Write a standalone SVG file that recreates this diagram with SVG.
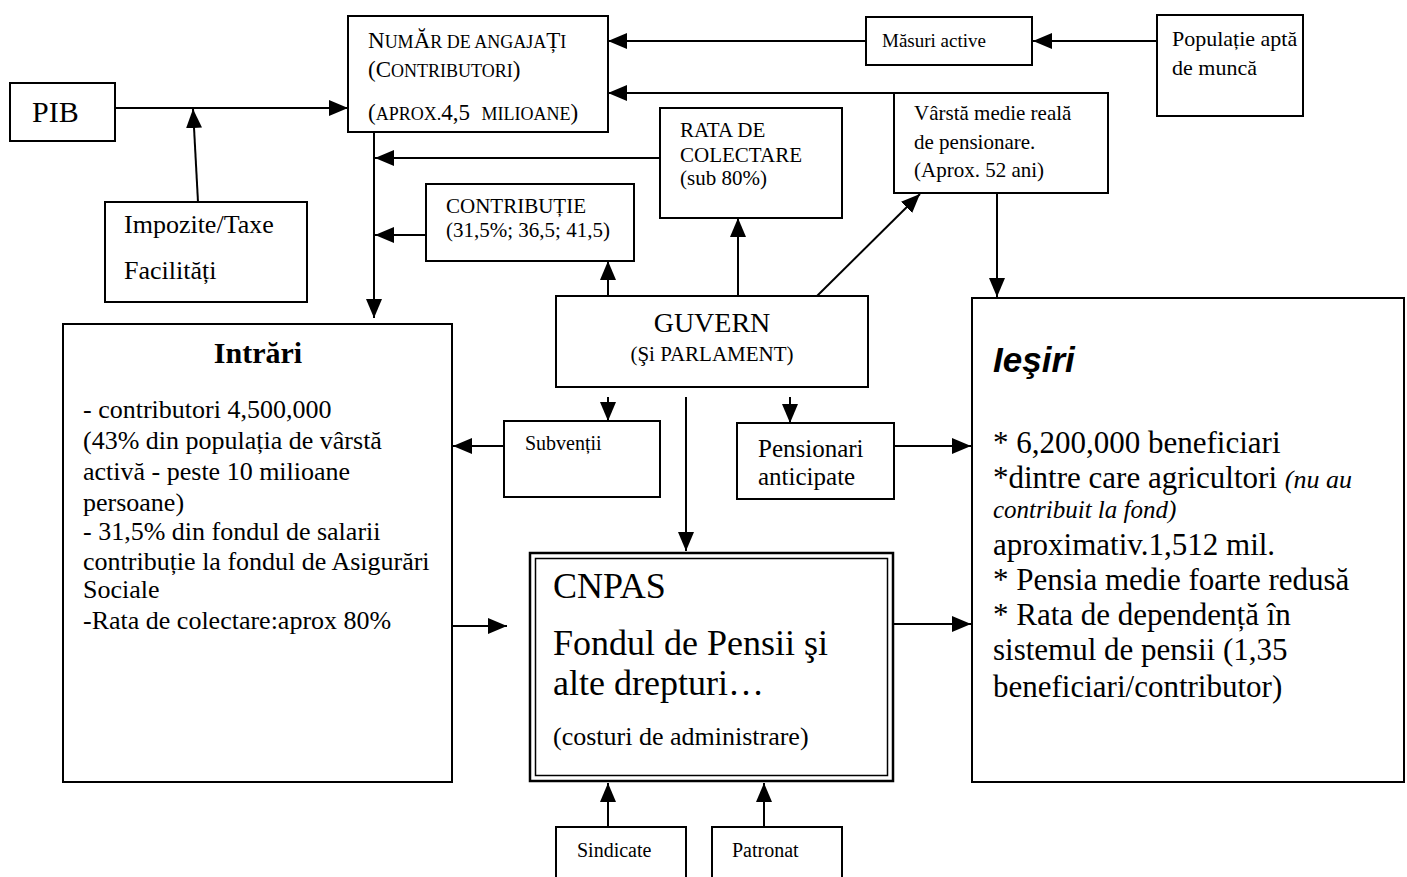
<svg xmlns="http://www.w3.org/2000/svg" width="1407" height="877" viewBox="0 0 1407 877">
<style>
.box{fill:#fff;stroke:#000;stroke-width:2}
.ln{fill:none;stroke:#000;stroke-width:2}
.ar{fill:none;stroke:#000;stroke-width:2;marker-end:url(#ah)}
text{font-family:"Liberation Serif","Times New Roman",serif;fill:#000}
.sans{font-family:"Liberation Sans",Arial,sans-serif}
</style>
<defs>
<marker id="ah" markerUnits="userSpaceOnUse" markerWidth="20" markerHeight="18" refX="19" refY="8" orient="auto" viewBox="0 0 20 16">
<path d="M0,0 L19,8 L0,16 z" fill="#000"/>
</marker>
</defs>
<rect width="1407" height="877" fill="#fff"/>

<g id="connectors">
<path class="ar" d="M115,108 H348"/>
<path class="ar" d="M198,202 L193,109"/>
<path class="ar" d="M866,41 H608"/>
<path class="ar" d="M1157,41 H1033"/>
<path class="ar" d="M894,93 H608"/>
<path class="ar" d="M374,132 V318"/>
<path class="ar" d="M660,158 H375"/>
<path class="ar" d="M426,235 H375"/>
<path class="ar" d="M608,296 V261"/>
<path class="ar" d="M738,296 V218"/>
<path class="ar" d="M817,296 L920,194"/>
<path class="ar" d="M997,193 V297"/>
<path class="ar" d="M608,397 V421"/>
<path class="ar" d="M790,397 V423"/>
<path class="ar" d="M686,397 V551"/>
<path class="ar" d="M504,446 H453"/>
<path class="ar" d="M894,446 H971"/>
<path class="ar" d="M452,626 H507"/>
<path class="ar" d="M894,624 H971"/>
<path class="ar" d="M608,827 V783"/>
<path class="ar" d="M764,827 V783"/>
</g>

<g id="pib">
<rect class="box" x="10" y="83" width="105" height="58"/>
<text x="32" y="122" font-size="30">PIB</text>
</g>

<g id="impozite">
<rect class="box" x="105" y="202" width="202" height="100"/>
<text x="124" y="233" font-size="26">Impozite/Taxe</text>
<text x="124" y="279" font-size="26">Facilități</text>
</g>

<g id="numar">
<rect class="box" x="348" y="16" width="260" height="116"/>
<text x="368" y="48" font-size="23">N<tspan font-size="18">UM</tspan>Ă<tspan font-size="18">R DE ANGAJA</tspan>Ț<tspan font-size="18">I</tspan></text>
<text x="368" y="77" font-size="23">(C<tspan font-size="18">ONTRIBUTORI</tspan>)</text>
<text x="368" y="120" font-size="23" xml:space="preserve">(<tspan font-size="18">APROX.</tspan>4,5  <tspan font-size="18">MILIOANE</tspan>)</text>
</g>

<g id="masuri">
<rect class="box" x="866" y="17" width="166" height="48"/>
<text x="882" y="47" font-size="19">Măsuri active</text>
</g>

<g id="populatie">
<rect class="box" x="1157" y="15" width="146" height="101"/>
<text x="1172" y="46" font-size="22">Populație aptă</text>
<text x="1172" y="75" font-size="22">de muncă</text>
</g>

<g id="varsta">
<rect class="box" x="894" y="93" width="214" height="100"/>
<text x="914" y="120" font-size="21">Vârstă medie reală</text>
<text x="914" y="149" font-size="21">de pensionare.</text>
<text x="914" y="177" font-size="21">(Aprox. 52 ani)</text>
</g>

<g id="rata">
<rect class="box" x="660" y="108" width="182" height="110"/>
<text x="680" y="137" font-size="21">RATA DE</text>
<text x="680" y="162" font-size="21">COLECTARE</text>
<text x="680" y="185" font-size="21">(sub 80%)</text>
</g>

<g id="contributie">
<rect class="box" x="426" y="184" width="208" height="77"/>
<text x="446" y="213" font-size="21">CONTRIBUȚIE</text>
<text x="446" y="237" font-size="21">(31,5%; 36,5; 41,5)</text>
</g>

<g id="guvern">
<rect class="box" x="556" y="296" width="312" height="91"/>
<text x="712" y="332" font-size="28" text-anchor="middle">GUVERN</text>
<text x="712" y="361" font-size="21" text-anchor="middle">(Şi PARLAMENT)</text>
</g>

<g id="subventii">
<rect class="box" x="504" y="421" width="156" height="76"/>
<text x="525" y="450" font-size="20">Subvenții</text>
</g>

<g id="pensionari">
<rect class="box" x="737" y="423" width="157" height="76"/>
<text x="758" y="457" font-size="25">Pensionari</text>
<text x="758" y="485" font-size="25">anticipate</text>
</g>

<g id="intrari">
<rect class="box" x="63" y="324" width="389" height="458"/>
<text x="258" y="363" font-size="30" font-weight="bold" text-anchor="middle">Intrări</text>
<text x="83" y="418" font-size="26">- contributori 4,500,000</text>
<text x="83" y="449" font-size="26">(43% din populația de vârstă</text>
<text x="83" y="480" font-size="26">activă - peste 10 milioane</text>
<text x="83" y="511" font-size="26">persoane)</text>
<text x="83" y="540" font-size="26">- 31,5% din fondul de salarii</text>
<text x="83" y="570" font-size="26">contribuție la fondul de Asigurări</text>
<text x="83" y="598" font-size="26">Sociale</text>
<text x="83" y="629" font-size="26">-Rata de colectare:aprox 80%</text>
</g>

<g id="cnpas">
<rect x="530" y="553" width="363" height="228" fill="#fff" stroke="#000" stroke-width="2.5"/>
<rect x="535.5" y="558.5" width="352" height="217" fill="none" stroke="#000" stroke-width="1.5"/>
<text x="553" y="598" font-size="36">CNPAS</text>
<text x="553" y="655" font-size="36">Fondul de Pensii şi</text>
<text x="553" y="695" font-size="36">alte drepturi…</text>
<text x="553" y="745" font-size="26">(costuri de administrare)</text>
</g>

<g id="iesiri">
<rect class="box" x="972" y="298" width="432" height="484"/>
<text class="sans" x="993" y="372" font-size="35" font-weight="bold" font-style="italic">Ieşiri</text>
<text x="993" y="453" font-size="31">* 6,200,000 beneficiari</text>
<text x="993" y="488" font-size="31">*dintre care agricultori <tspan font-size="26" font-style="italic">(nu au</tspan></text>
<text x="993" y="518" font-size="25" font-style="italic">contribuit la fond)</text>
<text x="993" y="555" font-size="31">aproximativ.1,512 mil.</text>
<text x="993" y="590" font-size="31">* Pensia medie foarte redusă</text>
<text x="993" y="625" font-size="31">* Rata de dependență în</text>
<text x="993" y="660" font-size="31">sistemul de pensii (1,35</text>
<text x="993" y="697" font-size="31">beneficiari/contributor)</text>
</g>

<g id="sindicate">
<rect class="box" x="556" y="827" width="130" height="60"/>
<text x="577" y="857" font-size="20">Sindicate</text>
</g>

<g id="patronat">
<rect class="box" x="712" y="827" width="130" height="60"/>
<text x="732" y="857" font-size="20">Patronat</text>
</g>
</svg>
